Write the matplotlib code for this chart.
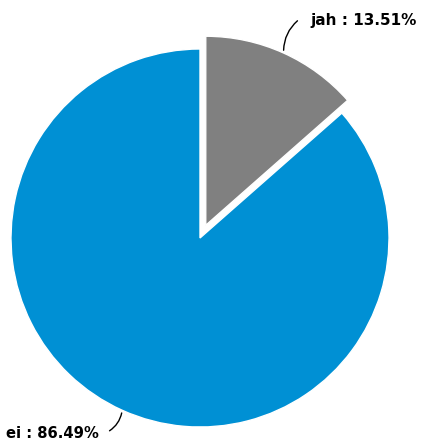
import numpy as np
import matplotlib
matplotlib.use('Agg')
import matplotlib.pyplot as plt

labels = ['jah', 'ei']
values = [13.51, 86.49]
colors = ['#808080', '#0090d4']

W, H = 421, 444
fig = plt.figure(figsize=(W / 100, H / 100), dpi=100)
ax = fig.add_axes([0, 0, 1, 1])

cx, cy, r = 200, H - 238, 189
expl = 14  # pie explode is in data units
wedges, _ = ax.pie(values, colors=colors, startangle=90, counterclock=False,
                   explode=[expl, 0], center=(cx, cy), radius=r,
                   wedgeprops=dict(linewidth=1, edgecolor='white'), frame=True)
ax.set_xlim(0, W)
ax.set_ylim(0, H)
ax.set_aspect('equal')
ax.axis('off')

# label connectors
tot = sum(values)
start = 90
offsets = [(16, 34), (-15, -22)]
for i, (lab, v) in enumerate(zip(labels, values)):
    mid = start - v / tot * 360 / 2
    start -= v / tot * 360
    a = np.deg2rad(mid)
    rr = r + (expl if i == 0 else 0)
    px, py = cx + rr * np.cos(a), cy + rr * np.sin(a)
    dx, dy = offsets[i]
    ex, ey = px + dx, py + dy
    ax.annotate('', xy=(px, py), xytext=(ex, ey),
                arrowprops=dict(arrowstyle='-', color='black', lw=1,
                                connectionstyle='arc3,rad=0.25'))
    if i == 0:
        ax.text(ex + 11, ey - 1, '%s : %.2f%%' % (lab, v), ha='left', va='center',
                fontsize=11, fontweight='bold')
    else:
        ax.text(ex - 8, ey - 1, '%s : %.2f%%' % (lab, v), ha='right', va='center',
                fontsize=10.6, fontweight='bold')

fig.savefig('out.png', dpi=100)
